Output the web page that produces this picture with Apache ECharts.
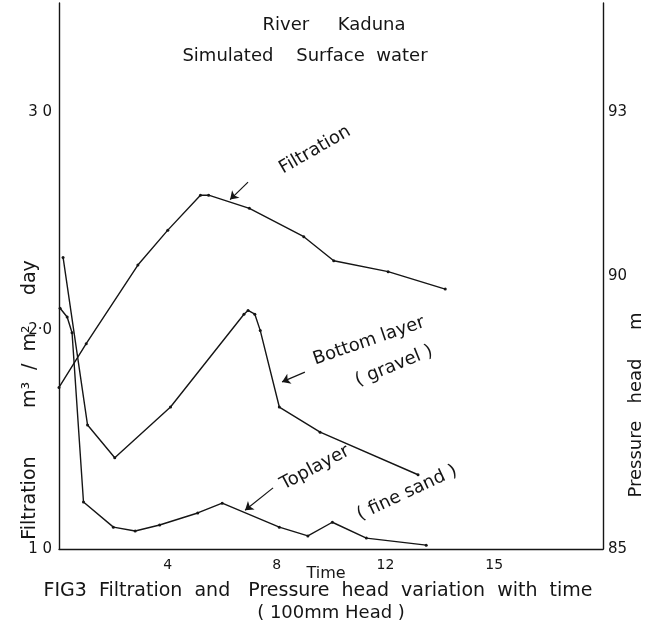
<!DOCTYPE html>
<html>
<head>
<meta charset="utf-8">
<script src="https://cdn.jsdelivr.net/npm/echarts@6/dist/echarts.min.js"></script>
<style>
  html, body { margin: 0; padding: 0; background: #fff; }
  #main { width: 659px; height: 632px; }
</style>
</head>
<body>
<div id="main"></div>
<script>
// time axis (x) ticks, the last one is printed "15" in the figure
const timeTickLabels = { 4: '4', 8: '8', 12: '12', 16: '15' };
const filtrationTickLabels = { 1: '1 0', 2: '2·0', 3: '3 0' };
const pressureTickLabels = { 85: '85', 90: '90', 93: '93' };

// Filtration m3/m2 day (left axis)
const filtrationTime = [0, 1, 2.9, 4, 5.2, 5.5, 7, 9, 10.1, 12.1, 14.2];
const filtrationValue = [1.74, 1.94, 2.30, 2.46, 2.62, 2.62, 2.56, 2.43, 2.32, 2.27, 2.19];

// Bottom layer (gravel), pressure head m (right axis)
const bottomTime = [0.15, 1.05, 2.05, 4.1, 6.8, 6.95, 7.2, 7.4, 8.1, 9.6, 13.2];
const bottomValue = [90.34, 87.27, 86.67, 87.6, 89.3, 89.37, 89.3, 89.0, 87.6, 87.14, 86.36];

// Top layer (fine sand), pressure head m (right axis)
const topTime = [0.04, 0.3, 0.48, 0.9, 2.0, 2.8, 3.7, 5.1, 6.0, 8.1, 9.15, 10.05, 11.3, 13.5];
const topValue = [89.41, 89.25, 88.96, 85.86, 85.40, 85.33, 85.44, 85.66, 85.84, 85.40, 85.24, 85.49, 85.20, 85.07];

const zip = (xs, ys) => xs.map((x, i) => [x, ys[i]]);

const FONT = 'DejaVu Sans';
const INK = '#151515';

const chart = echarts.init(document.getElementById('main'));

const lineSeries = (name, data, yAxisIndex, arrow) => ({
  name,
  type: 'line',
  yAxisIndex,
  data,
  symbol: 'circle',
  symbolSize: 3,
  itemStyle: { color: INK },
  lineStyle: { color: INK, width: 1.4 },
  animation: false,
  markLine: {
    silent: true,
    symbol: ['none', 'arrow'],
    symbolSize: 8,
    label: { show: false },
    lineStyle: { color: INK, width: 1.2, type: 'solid' },
    data: [[{ coord: arrow[0] }, { coord: arrow[1] }]]
  }
});

// text labels on the plot
const note = (text, x, y, deg, size) => ({
  type: 'text',
  x, y,
  rotation: deg * Math.PI / 180,
  style: {
    text,
    fill: INK,
    font: `${size || 17}px "${FONT}"`,
    align: 'center',
    verticalAlign: 'middle'
  }
});

const option = {
  backgroundColor: '#fff',
  animation: false,
  grid: { left: 59, right: 56, top: 3, bottom: 83 },
  xAxis: {
    type: 'value',
    min: 0,
    max: 20,
    interval: 4,
    axisLine: { lineStyle: { color: INK, width: 1.4 } },
    axisTick: { show: false },
    splitLine: { show: false },
    axisLabel: {
      color: INK, fontFamily: FONT, fontSize: 14, margin: 9,
      formatter: v => timeTickLabels[v] || ''
    }
  },
  yAxis: [
    {
      type: 'value',
      min: 1,
      max: 3.5,
      interval: 0.5,
      axisLine: { show: true, lineStyle: { color: INK, width: 1.4 } },
      axisTick: { show: false },
      splitLine: { show: false },
      axisLabel: {
        color: INK, fontFamily: FONT, fontSize: 15, margin: 7,
        formatter: v => filtrationTickLabels[v] || ''
      }
    },
    {
      type: 'value',
      position: 'right',
      min: 85,
      max: 95,
      interval: 1,
      axisLine: { show: true, lineStyle: { color: INK, width: 1.4 } },
      axisTick: { show: false },
      splitLine: { show: false },
      axisLabel: {
        color: INK, fontFamily: FONT, fontSize: 15, margin: 5,
        formatter: v => pressureTickLabels[v] || ''
      }
    }
  ],
  series: [
    lineSeries('Filtration', zip(filtrationTime, filtrationValue), 0, [[6.95, 2.68], [6.29, 2.6]]),
    lineSeries('Bottom layer (gravel)', zip(bottomTime, bottomValue), 1, [[9.04, 88.24], [8.2, 88.06]]),
    lineSeries('Top layer (fine sand)', zip(topTime, topValue), 1, [[7.87, 86.12], [6.84, 85.71]])
  ],
  graphic: [
    note('River     Kaduna', 334, 25, 0, 18),
    note('Simulated    Surface  water', 305, 56, 0, 18),
    note('Filtration', 315, 150, 30, 18),
    note('Bottom layer', 369, 341, 19, 18),
    note('( gravel )', 394, 366, 22, 18),
    note('Toplayer', 315, 468, 28, 18),
    note('( fine sand )', 407, 493, 25, 18),
    note('Time', 326, 574, 0, 16),
    note('Filtration        m³  /  m²     day', 30, 400, 90, 19),
    note('Pressure   head     m', 636, 405, 90, 18),
    note('FIG3  Filtration  and   Pressure  head  variation  with  time', 318, 591, 0, 19),
    note('( 100mm Head )', 331, 613, 0, 18)
  ]
};

chart.setOption(option);
</script>
</body>
</html>
